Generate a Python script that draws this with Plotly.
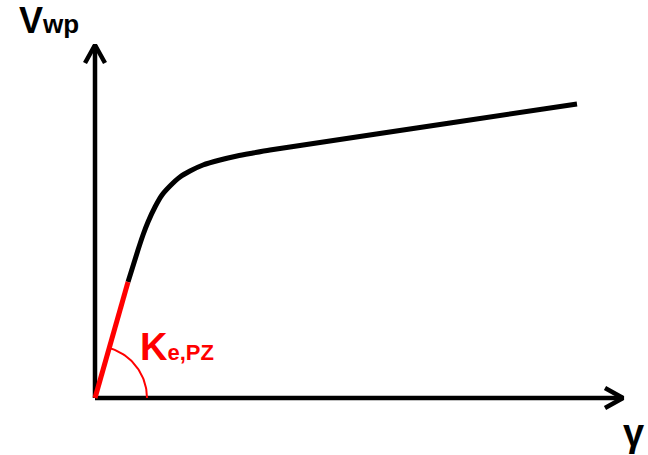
import numpy as np
import plotly.graph_objects as go

# Elastic branch of the panel-zone response (initial stiffness K_e,PZ)
gamma_elastic = [0, 33]
v_elastic = [0, 116]

# Post-yield branch of the shear force - shear distortion curve
gamma_curve = [33, 43, 48, 53, 60, 67, 75, 85, 95, 108, 125, 142, 158, 175, 195, 355, 482]
v_curve = [116, 148, 163, 176, 191, 203, 212, 221, 227, 233, 238, 242, 245, 248, 251, 275, 294]

# Axis extents (arrow tips)
x_axis_end = 528
y_axis_end = 353

FONT = "Liberation Sans, Arial, sans-serif"
RED = "#ff0000"

fig = go.Figure()

# Axes with open arrowheads
fig.add_trace(go.Scatter(x=[0, x_axis_end], y=[0, 0], mode="lines",
                         line=dict(color="black", width=4.5), hoverinfo="skip"))
fig.add_trace(go.Scatter(x=[0, 0], y=[0, y_axis_end], mode="lines",
                         line=dict(color="black", width=4.5), hoverinfo="skip"))
head = 18
half = 10
fig.add_trace(go.Scatter(x=[x_axis_end - head, x_axis_end, x_axis_end - head],
                         y=[half, 0, -half], mode="lines",
                         line=dict(color="black", width=4.5), hoverinfo="skip"))
fig.add_trace(go.Scatter(x=[-half, 0, half],
                         y=[y_axis_end - head, y_axis_end, y_axis_end - head], mode="lines",
                         line=dict(color="black", width=4.5), hoverinfo="skip"))

# Response curve
fig.add_trace(go.Scatter(x=gamma_curve, y=v_curve, mode="lines",
                         line=dict(color="black", width=5, shape="spline", smoothing=0.8),
                         hoverinfo="skip"))
fig.add_trace(go.Scatter(x=gamma_elastic, y=v_elastic, mode="lines",
                         line=dict(color=RED, width=5), hoverinfo="skip"))

# Angle arc marking the elastic stiffness
r = 52
theta_end = np.arctan2(v_elastic[1], gamma_elastic[1])
th = np.linspace(0, theta_end, 40)
fig.add_trace(go.Scatter(x=r * np.cos(th), y=r * np.sin(th), mode="lines",
                         line=dict(color=RED, width=2), hoverinfo="skip"))

fig.add_annotation(x=-78, y=378, xanchor="left", yanchor="middle", showarrow=False,
                   text="<b>V</b><span style='font-size:26px'><b>wp</b></span>",
                   font=dict(family=FONT, size=36, color="black"))
fig.add_annotation(x=538, y=-35, xanchor="center", yanchor="middle", showarrow=False,
                   text="<b>γ</b>",
                   font=dict(family=FONT, size=38, color="black"))
fig.add_annotation(x=43, y=51, xanchor="left", yanchor="middle", showarrow=False,
                   text="<b>K</b><span style='font-size:22px'><b>e,PZ</b></span>",
                   font=dict(family=FONT, size=38, color=RED))

fig.update_layout(
    width=648, height=455,
    margin=dict(l=0, r=0, t=0, b=0),
    paper_bgcolor="white", plot_bgcolor="white",
    showlegend=False,
    xaxis=dict(range=[-95, 553], visible=False, fixedrange=True),
    yaxis=dict(range=[-57, 398], visible=False, fixedrange=True),
)

fig.write_html("out.html")
